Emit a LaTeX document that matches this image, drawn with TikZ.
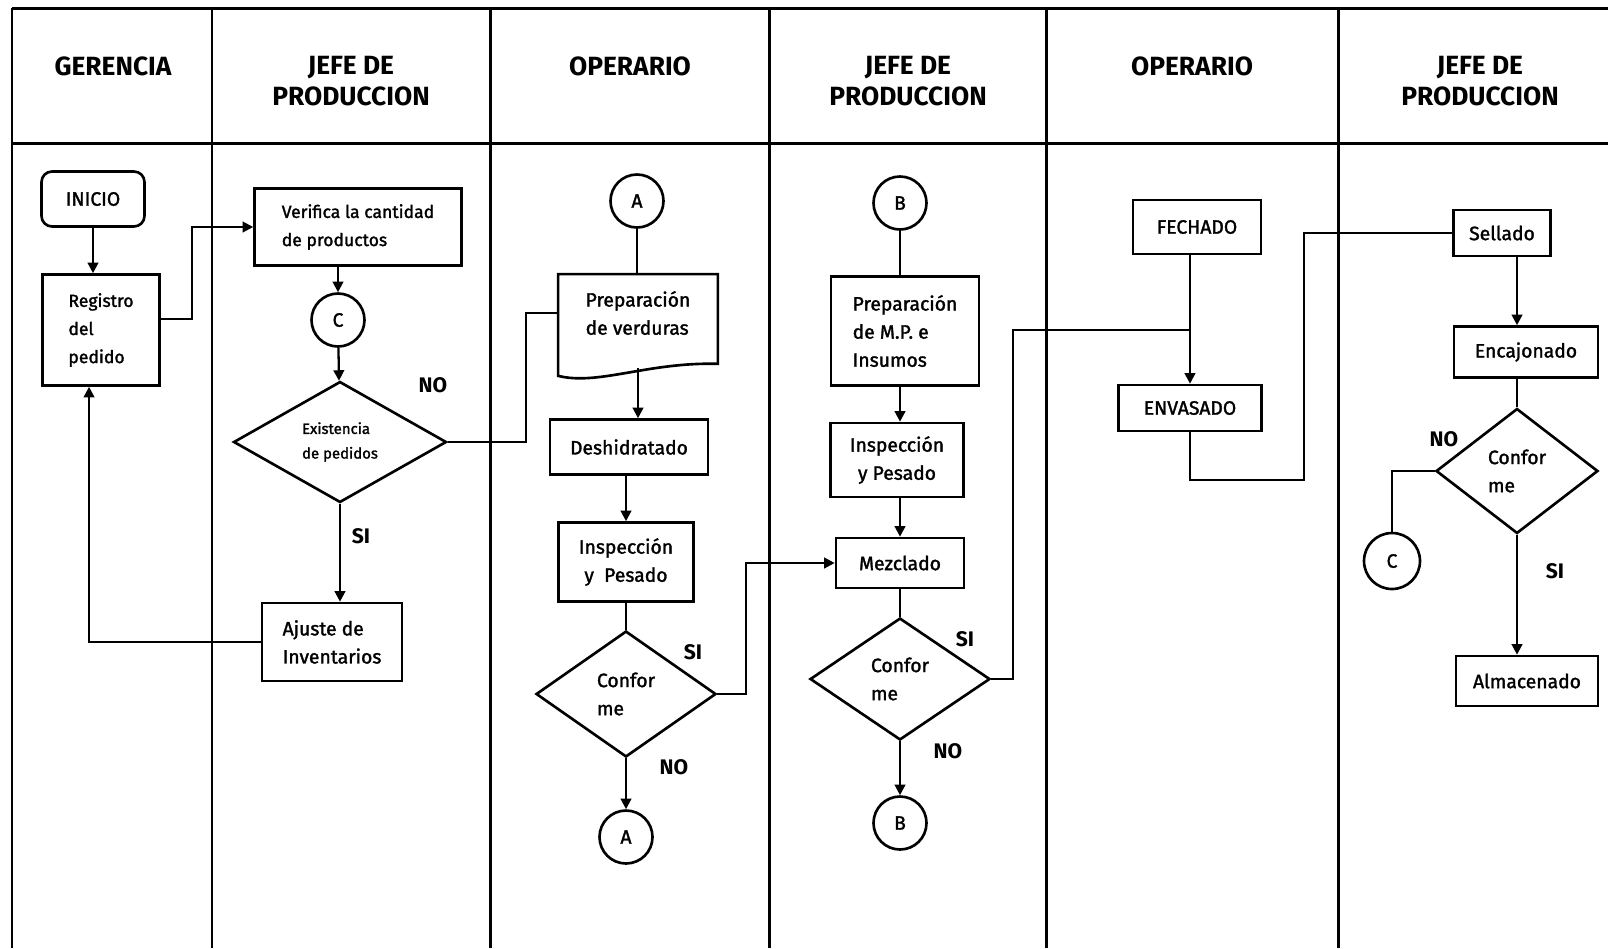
\documentclass[tikz,border=0pt]{standalone}
\usepackage{fontspec}
\setmainfont{Fira Sans}
\newfontfamily\textocaja{Fira Sans}[FakeBold=1.6]
\usetikzlibrary{arrows.meta, calc, positioning, shapes.geometric}

\begin{document}
\begin{tikzpicture}[
    x=0.02cm, y=-0.02cm,
    every node/.style={font=\fontsize{11}{16}\textocaja, inner sep=0pt},
    tabla/.style={line width=1.7pt},
    linea/.style={line width=1.3pt},
    flecha/.style={linea, -{Triangle[length=6pt, width=6pt]}},
    cabecera/.style={font=\fontsize{15}{17.6}\normalfont\bfseries, align=center, anchor=north},
    caja/.style={draw, line width=1.5pt, align=left},
    cajac/.style={draw, line width=1.5pt, align=center},
    inicio/.style={draw, line width=1.5pt, rounded corners=6pt},
    decision/.style={diamond, draw, line width=1.5pt, align=left},
    conector/.style={circle, draw, line width=1.5pt, minimum size=1.06cm},
    etiqueta/.style={font=\fontsize{12}{14}\normalfont\bfseries},
  ]
  \useasboundingbox (0,0) rectangle (1608,948);

  % carriles
  \draw[tabla] (12,8) -- (1608,8);
  \draw[tabla] (12,143) -- (1608,143);
  \foreach \x in {12,212,490,769,1046,1338}
    \draw[tabla] (\x,8) -- (\x,948);

  \foreach \x/\t [count=\i] in {113/GERENCIA, 351/{JEFE DE\\PRODUCCION}, 630/OPERARIO,
      908/{JEFE DE\\PRODUCCION}, 1192/OPERARIO, 1480/{JEFE DE\\PRODUCCION}}
    \node[cabecera] (cab\i) at (\x,56) {\t};

  % gerencia y jefe de produccion
  \node[inicio, minimum width=2.06cm, minimum height=1.1cm] (inicio) at (93,199) {INICIO};
  \node[caja, minimum width=2.34cm, minimum height=2.22cm, font=\fontsize{10}{16}\textocaja]
    (registro) at (101,330) {Registro\\del\\pedido};
  \node[caja, minimum width=4.14cm, minimum height=1.54cm, font=\fontsize{10}{16}\textocaja]
    (verifica) at (358,227) {Verifica la cantidad\\de productos};
  \node[conector] (cc1) at (338,320) {C};
  \node[decision, minimum width=4.26cm, minimum height=2.42cm, font=\fontsize{8.5}{14}\textocaja]
    (existencia) at (340,442) {Existencia\\de pedidos};
  \node[caja, minimum width=2.8cm, minimum height=1.56cm] (ajuste) at (332,642) {Ajuste de\\Inventarios};

  % operario
  \node[conector] (ca1) at (637,201) {A};
  \node[minimum width=3.18cm, minimum height=1.54cm, align=left] (prep) at (638,313)
    {Preparación\\de verduras};
  \draw[line width=1.5pt] (prep.north west) -- (prep.north east) -- ($(prep.south east)+(0,12)$)
    .. controls ($(prep.south)+(10,10)$) and ($(prep.south)+(-40,34)$) .. ($(prep.south west)+(0,24)$)
    -- cycle;
  \coordinate (prepbase) at ($(prep.south)+(0,16)$);
  \node[cajac, minimum width=3.16cm, minimum height=1.1cm] (desh) at (629,447) {Deshidratado};
  \node[cajac, minimum width=2.7cm, minimum height=1.58cm] (insp1) at (626,562) {Inspección\\y\ \ Pesado};
  \node[decision, minimum width=3.6cm, minimum height=2.52cm] (conf1) at (626,694) {Confor\\me};
  \node[conector] (ca2) at (626,837) {A};

  % jefe de produccion
  \node[conector] (cb1) at (900,203) {B};
  \node[caja, minimum width=2.96cm, minimum height=2.18cm] (prepmp) at (905,331)
    {Preparación\\de M.P. e\\Insumos};
  \node[cajac, minimum width=2.66cm, minimum height=1.48cm] (insp2) at (897,460) {Inspección\\y Pesado};
  \node[cajac, minimum width=2.56cm, minimum height=1.0cm] (mezcla) at (900,563) {Mezclado};
  \node[decision, minimum width=3.6cm, minimum height=2.44cm] (conf2) at (900,679) {Confor\\me};
  \node[conector] (cb2) at (900,823) {B};

  % operario
  \node[cajac, minimum width=2.56cm, minimum height=1.08cm] (fechado) at (1197,227) {FECHADO};
  \node[cajac, minimum width=2.86cm, minimum height=0.92cm] (envasado) at (1190,408) {ENVASADO};
  \coordinate (union) at (1190,330);
  \coordinate (codo) at (1304,480);

  % jefe de produccion
  \node[caja, minimum width=1.94cm, minimum height=0.92cm] (sellado) at (1502,233) {Sellado};
  \node[cajac, minimum width=2.88cm, minimum height=1.02cm] (encajonado) at (1526,352) {Encajonado};
  \node[decision, minimum width=3.24cm, minimum height=2.5cm] (conf3) at (1517,471) {Confor\\me};
  \node[conector, minimum size=1.12cm] (cc2) at (1392,561) {C};
  \node[cajac, minimum width=2.84cm, minimum height=1.0cm] (almacenado) at (1527,681) {Almacenado};

  % etiquetas SI / NO
  \node[etiqueta] (no1) at (433,385) {NO};
  \node[etiqueta] (si1) at (361,536) {SI};
  \node[etiqueta] (si2) at (693,652) {SI};
  \node[etiqueta] (no2) at (674,767) {NO};
  \node[etiqueta] (si3) at (965,639) {SI};
  \node[etiqueta] (no3) at (948,751) {NO};
  \node[etiqueta] (no4) at (1444,439) {NO};
  \node[etiqueta] (si4) at (1555,571) {SI};

  % flujo
  \draw[flecha] (inicio) -- (inicio |- registro.north);
  \draw[flecha] ($(registro.north east)!0.4!(registro.south east)$) -- ++(31,0) |- (verifica.west);
  \draw[flecha] (verifica.south -| cc1) -- (cc1);
  \draw[flecha] (cc1) -- (existencia);
  \draw[flecha] (existencia) -- (existencia |- ajuste.north);
  \draw[flecha] (ajuste.west) -| ($(registro.south west)!0.4!(registro.south east)$);
  \draw[linea] (existencia.east) -- ++(78,0) |- (prep.west);

  \draw[linea] (ca1) -- (ca1 |- prep.north);
  \draw[flecha] (prepbase) -- (prepbase |- desh.north);
  \draw[flecha] (desh.south -| insp1) -- (insp1);
  \draw[linea] (insp1) -- (conf1);
  \draw[flecha] (conf1) -- (ca2);
  \draw[flecha] (conf1.east) -- ++(29,0) |- (mezcla.west);

  \draw[linea] (cb1) -- (cb1 |- prepmp.north);
  \draw[flecha] (prepmp.south -| cb1) -- (insp2.north -| cb1);
  \draw[flecha] (insp2.south -| cb1) -- (mezcla.north -| cb1);
  \draw[linea] (mezcla.south -| cb1) -- (conf2);
  \draw[flecha] (conf2) -- (cb2);
  \draw[linea] (conf2.east) -- ++(22,0) |- (union);

  \draw[flecha] (fechado.south -| envasado) -- (envasado);
  \draw[linea] (envasado) |- (codo) |- (sellado.west);

  \draw[flecha] (sellado.south -| conf3) -- (encajonado.north -| conf3);
  \draw[linea] (encajonado.south -| conf3) -- (conf3);
  \draw[linea] (conf3.west) -| (cc2);
  \draw[flecha] (conf3) -- (conf3 |- almacenado.north);
\end{tikzpicture}
\end{document}
